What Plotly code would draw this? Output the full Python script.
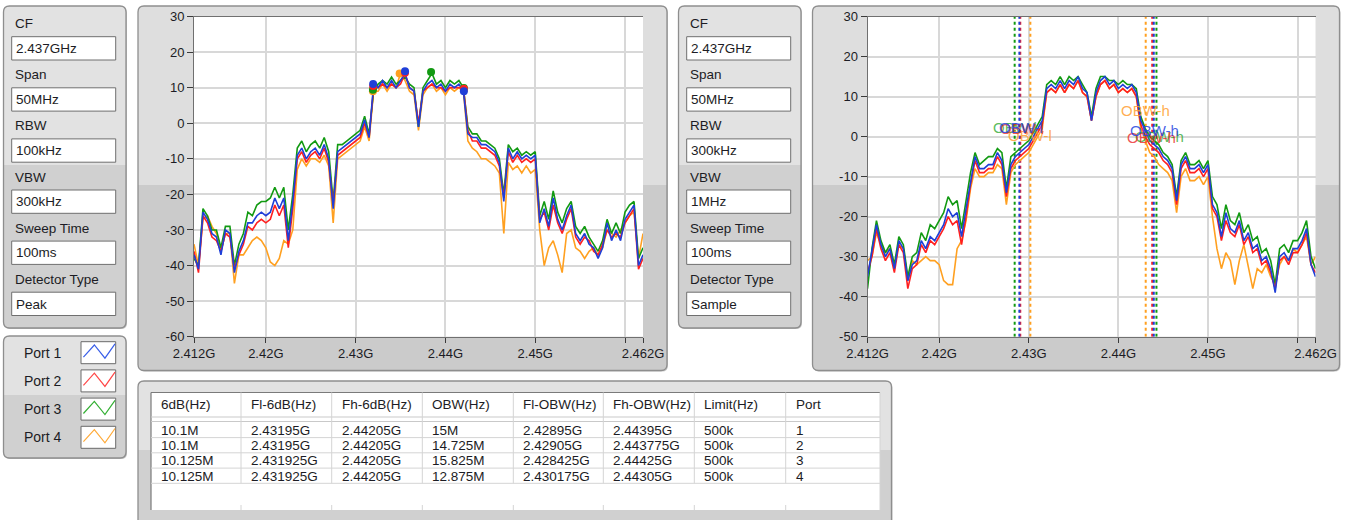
import plotly.graph_objects as go

W, H = 1346, 520
FONT = "Liberation Sans, Arial, sans-serif"
TXT = "#1c1c24"

# ---------------- data ----------------
F_START_GHZ = 2.412
F_STEP_GHZ = 0.0005
N_POINTS = 101
freqs = [round(F_START_GHZ + i * F_STEP_GHZ, 4) for i in range(N_POINTS)]

PORTS = ["Port 1", "Port 2", "Port 3", "Port 4"]
PORT_COLORS = ["#1f3fd8", "#ff2020", "#129a12", "#ffa020"]
SWATCH_COLORS = ["#3a5fe8", "#ff4848", "#34b034", "#ffaa38"]

# Left chart (RBW 100 kHz, Peak detector), dBm
LEFT_P1 = [-37, -41, -25, -27, -31, -32, -37, -30, -31, -42,
           -36, -33, -28, -28, -26, -25, -26, -25, -21, -24,
           -21, -33, -22, -9, -7, -10, -8, -7, -9, -6,
           -10, -24, -8, -7, -6, -5, -4, -3, 1, -4,
           11, 10, 12, 10, 12, 10, 12, 14, 10, 9,
           -1, 9, 11, 12, 10, 11, 9, 11, 10, 11,
           9, -3, -4, -4, -6, -6, -7, -8, -11, -22,
           -7, -10, -8, -10, -9, -10, -9, -28, -24, -29,
           -21, -27, -30, -26, -23, -31, -33, -31, -34, -35,
           -38, -35, -28, -33, -30, -33, -27, -25, -23, -40,
           -37]
LEFT_P2 = [-36, -42, -26, -28, -32, -33, -36, -31, -32, -41,
           -37, -34, -29, -30, -28, -27, -28, -27, -23, -26,
           -23, -35, -24, -10, -8, -11, -9, -8, -10, -7,
           -11, -23, -9, -8, -7, -6, -5, -4, 0, -4,
           10, 10, 11, 10, 11, 10, 11, 14, 10, 9,
           0, 9, 10, 11, 10, 10, 9, 10, 10, 10,
           10, -2, -5, -5, -7, -7, -8, -9, -12, -21,
           -8, -11, -9, -11, -10, -11, -10, -27, -25, -30,
           -23, -28, -31, -27, -24, -32, -34, -32, -33, -36,
           -37, -34, -30, -32, -31, -32, -28, -26, -24, -41,
           -38]
LEFT_P3 = [-38, -40, -24, -26, -30, -30, -35, -29, -29, -40,
           -34, -31, -25, -26, -23, -22, -22, -21, -18, -21,
           -18, -30, -20, -7, -5, -8, -6, -5, -7, -4,
           -8, -22, -6, -6, -5, -4, -3, -2, 2, -3,
           9, 11, 12, 11, 13, 11, 12, 13, 11, 10,
           -1, 10, 12, 14, 11, 12, 10, 12, 11, 12,
           10, -1, -3, -3, -5, -5, -6, -7, -10, -20,
           -6, -8, -7, -9, -8, -9, -8, -26, -22, -27,
           -19, -25, -28, -24, -22, -29, -31, -29, -32, -34,
           -36, -33, -27, -31, -28, -31, -25, -23, -22, -38,
           -35]
LEFT_P4 = [-34, -40, -27, -26, -29, -31, -36, -31, -31, -45,
           -37, -37, -35, -33, -32, -33, -35, -39, -40, -38,
           -33, -34, -30, -13, -10, -12, -10, -10, -11, -9,
           -12, -28, -10, -9, -8, -7, -6, -5, -1, -5,
           9, 9, 11, 9, 11, 10, 14, 12, 9, 8,
           -2, 8, 10, 11, 9, 10, 8, 10, 9, 10,
           9, -5, -7, -8, -10, -10, -11, -12, -14, -31,
           -11, -13, -12, -14, -12, -14, -13, -30, -40, -35,
           -33, -37, -42, -31, -30, -35, -36, -38, -36, -35,
           -37, -35, -30, -31, -32, -30, -28, -26, -25, -38,
           -31]

# Right chart (RBW 300 kHz, Sample detector), dBm
RIGHT_P1 = [-35, -29, -22, -27, -30, -28, -33, -26, -28, -36,
            -32, -31, -26, -28, -25, -26, -24, -22, -18, -20,
            -19, -25, -18, -11, -5, -8, -8, -7, -7, -4,
            -6, -14, -7, -5, -4, -3, -2, 0, 2, 4,
            12, 13, 12, 14, 12, 14, 13, 15, 12, 11,
            4, 11, 14, 15, 13, 14, 12, 13, 12, 13,
            11, 4, 1.5, -1, -2, -3, -5, -6, -8, -16,
            -7, -5, -8, -8, -7, -9, -7, -17, -19, -25,
            -19, -23, -24, -21, -26, -24, -28, -27, -31, -30,
            -33, -39, -30, -29, -31, -28, -28, -26, -23, -32,
            -35]
RIGHT_P2 = [-34, -30, -23, -28, -31, -29, -34, -27, -29, -38,
            -33, -32, -27, -29, -26, -27, -25, -23, -20, -22,
            -21, -27, -20, -12, -6, -9, -9, -8, -8, -5,
            -7, -15, -8, -6, -5, -4, -3, -1, 1, 3,
            11, 12, 11, 13, 11, 13, 12, 14, 11, 10,
            4, 10, 13, 14, 12, 13, 11, 12, 11, 12,
            10, 3, 0, -2, -3, -4, -6, -7, -9, -17,
            -8, -6, -9, -9, -8, -10, -8, -18, -20, -26,
            -21, -24, -25, -22, -27, -25, -29, -28, -32, -31,
            -34, -38, -31, -30, -32, -29, -29, -27, -24, -32,
            -34]
RIGHT_P3 = [-38, -28, -21, -26, -29, -27, -32, -25, -27, -35,
            -30, -29, -24, -26, -22, -23, -21, -19, -15, -17,
            -16, -23, -16, -9, -4, -7, -6, -5, -5, -3,
            -4, -13, -5, -4, -3, -2, -1, 1, 3, 5,
            13, 14, 13, 15, 13, 15, 14, 15, 13, 11,
            5, 12, 15, 15, 14, 14, 13, 14, 13, 13,
            12, 5, 2, 0, -1, -2, -4, -5, -7, -15,
            -6, -4, -7, -7, -6, -8, -6, -15, -17, -23,
            -17, -21, -22, -19, -24, -22, -26, -25, -29, -28,
            -31, -37, -28, -27, -29, -26, -26, -24, -21, -30,
            -33]
RIGHT_P4 = [-31, -30, -24, -27, -29, -28, -32, -27, -28, -36,
            -31, -32, -31, -30, -31, -31, -32, -36, -37, -37,
            -28, -26, -21, -13, -8, -10, -10, -9, -9, -7,
            -8, -17, -9, -7, -6, -5, -4, -2, 0, 2,
            11, 12, 11, 13, 11, 13, 12, 14, 11, 10,
            4, 10, 13, 14, 12, 13, 11, 12, 11, 12,
            10, 2, -1, -4, -5, -7, -8, -9, -11, -19,
            -10, -8, -11, -11, -10, -12, -10, -20, -28, -33,
            -29, -31, -37, -31, -27, -33, -38, -33, -34, -32,
            -35, -37, -32, -30, -31, -28, -29, -27, -25, -32,
            -30]

LEFT_SERIES = [LEFT_P1, LEFT_P2, LEFT_P3, LEFT_P4]
RIGHT_SERIES = [RIGHT_P1, RIGHT_P2, RIGHT_P3, RIGHT_P4]

# Table results (per port)
BW6_TXT = ["10.1M", "10.1M", "10.125M", "10.125M"]
FL6_GHZ = [2.43195, 2.43195, 2.431925, 2.431925]
FH6_GHZ = [2.44205, 2.44205, 2.44205, 2.44205]
OBW_TXT = ["15M", "14.725M", "15.825M", "12.875M"]
FL_OBW_GHZ = [2.42895, 2.42905, 2.428425, 2.430175]
FH_OBW_GHZ = [2.44395, 2.443775, 2.44425, 2.44305]
LIMIT_TXT = ["500k", "500k", "500k", "500k"]
PORT_NUM = ["1", "2", "3", "4"]
TABLE_HEADERS = ["6dB(Hz)", "Fl-6dB(Hz)", "Fh-6dB(Hz)", "OBW(Hz)",
                 "Fl-OBW(Hz)", "Fh-OBW(Hz)", "Limit(Hz)", "Port"]

# Left chart markers (6 dB points and peak)
LOW6_DB = [11.0, 10.5, 9.4, 9.0]
PEAK_GHZ = [2.4355, 2.4355, 2.4384, 2.4349]
PEAK_DB = [14.6, 14.2, 14.4, 14.0]
HIGH6_DB = [9.0, 9.7, 9.9, 9.4]

# OBW cursor label positions (right chart)
OBWL_LABEL_GHZ = [2.42646, 2.4266, 2.42574, 2.42749]
OBWL_LABEL_DB = [2.2, 2.0, 2.2, 0.2]
OBWH_LABEL_GHZ = [2.44106, 2.44074, 2.4416, 2.4401]
OBWH_LABEL_DB = [1.5, -0.2, 0.05, 6.6]
LABEL_COLORS = ["rgba(40,70,225,0.85)", "rgba(235,40,40,0.8)",
                "rgba(50,170,50,0.8)", "rgba(255,160,50,0.85)"]

SET_LABELS = ["CF", "Span", "RBW", "VBW", "Sweep Time", "Detector Type"]
SET1_VALUES = ["2.437GHz", "50MHz", "100kHz", "300kHz", "100ms", "Peak"]
SET2_VALUES = ["2.437GHz", "50MHz", "300kHz", "1MHz", "100ms", "Sample"]

X_TICK_VALS = [2.412, 2.42, 2.43, 2.44, 2.45, 2.46, 2.462]
X_TICK_TEXT = ["2.412G", "2.42G", "2.43G", "2.44G", "2.45G", "", "2.462G"]
LEFT_Y_TICKS = [-60, -50, -40, -30, -20, -10, 0, 10, 20, 30]
RIGHT_Y_TICKS = [-50, -40, -30, -20, -10, 0, 10, 20, 30]

# ---------------- helpers ----------------
def PX(x):
    return x / W


def PY(y):
    return 1 - y / H


def P(x, y):
    return f"{x / W:.5f},{1 - y / H:.5f}"


def rounded_path(x0, y0, x1, y1, r, top=True, bottom=True):
    rt = r if top else 0
    rb = r if bottom else 0
    s = f"M{P(x0 + rt, y0)} L{P(x1 - rt, y0)} "
    if rt:
        s += f"Q{P(x1, y0)} {P(x1, y0 + rt)} "
    s += f"L{P(x1, y1 - rb)} "
    if rb:
        s += f"Q{P(x1, y1)} {P(x1 - rb, y1)} "
    s += f"L{P(x0 + rb, y1)} "
    if rb:
        s += f"Q{P(x0, y1)} {P(x0, y1 - rb)} "
    s += f"L{P(x0, y0 + rt)} "
    if rt:
        s += f"Q{P(x0, y0)} {P(x0 + rt, y0)} "
    return s + "Z"


shapes = []
annotations = []


def panel(x0, y0, x1, y1, ymid, light="#e2e2e2", dark="#d0d0d0", r=6):
    shapes.append(dict(type="path", path=rounded_path(x0 + 1, y0 + 1, x1 + 1, y1 + 1, r),
                       xref="paper", yref="paper", fillcolor="#c4c4c4",
                       line=dict(width=0), layer="below"))
    shapes.append(dict(type="path", path=rounded_path(x0, y0, x1, y1, r),
                       xref="paper", yref="paper", fillcolor=dark,
                       line=dict(width=0), layer="below"))
    shapes.append(dict(type="path", path=rounded_path(x0, y0, x1, ymid, r, bottom=False),
                       xref="paper", yref="paper", fillcolor=light,
                       line=dict(width=0), layer="below"))
    shapes.append(dict(type="path", path=rounded_path(x0, y0, x1, y1, r),
                       xref="paper", yref="paper", fillcolor="rgba(0,0,0,0)",
                       line=dict(color="#8e8e8e", width=1.3), layer="below"))


def box(x0, y0, x1, y1, fill="white", line="#6f6f6f", lw=1):
    shapes.append(dict(type="rect", xref="paper", yref="paper",
                       x0=PX(x0), x1=PX(x1), y0=PY(y1), y1=PY(y0),
                       fillcolor=fill, line=dict(color=line, width=lw), layer="below"))


def hline(x0, x1, y, color, lw=1):
    shapes.append(dict(type="line", xref="paper", yref="paper",
                       x0=PX(x0), x1=PX(x1), y0=PY(y), y1=PY(y),
                       line=dict(color=color, width=lw), layer="below"))


def vline(x, y0, y1, color, lw=1):
    shapes.append(dict(type="line", xref="paper", yref="paper",
                       x0=PX(x), x1=PX(x), y0=PY(y0), y1=PY(y1),
                       line=dict(color=color, width=lw), layer="below"))


def text(x, y, s, size=13.5, color=TXT, anchor="left"):
    annotations.append(dict(x=PX(x), y=PY(y), xref="paper", yref="paper", text=s,
                            showarrow=False, xanchor=anchor, yanchor="middle",
                            font=dict(family=FONT, size=size, color=color)))


# ---------------- panels ----------------
def settings_panel(xoff, values):
    panel(xoff + 3.5, 6, xoff + 126, 328, 165)
    for k, (lab, val) in enumerate(zip(SET_LABELS, values)):
        ly = 23.3 + k * 51.3
        by0 = 36.7 + k * 51.1
        text(xoff + 12.5, ly, lab)
        box(xoff + 11.7, by0, xoff + 115.7, by0 + 23.3)
        text(xoff + 14, by0 + 11.8, val)


settings_panel(0, SET1_VALUES)
settings_panel(675, SET2_VALUES)

# legend panel
panel(3.5, 336, 126, 458, 395)
for k, (name, col) in enumerate(zip(PORTS, SWATCH_COLORS)):
    cy = 352.7 + k * 28.2
    text(21.5, cy, name, size=14)
    bx0, by0, bw, bh = 81, cy - 11, 34.7, 22
    box(bx0, by0, bx0 + bw, by0 + bh, line="#6a6a6a")
    rel = [(0.07, 0.70), (0.385, 0.15), (0.69, 0.75), (0.98, 0.10)]
    pts = [P(bx0 + a * bw, by0 + b * bh) for a, b in rel]
    shapes.append(dict(type="path", xref="paper", yref="paper",
                       path="M" + " L".join(pts), line=dict(color=col, width=1.2),
                       fillcolor="rgba(0,0,0,0)", layer="below"))

# chart panels with white plot areas
LEFT_PLOT = (194.0, 16.5, 643.0, 336.7)
RIGHT_PLOT = (867.5, 16.5, 1315.5, 336.7)
panel(138, 6, 667, 370.5, 185, light="#dedede", dark="#cbcbcb")
box(*LEFT_PLOT, fill="white", line="white", lw=0)
panel(812.5, 6, 1339.5, 370.5, 185, light="#dedede", dark="#cbcbcb")
box(*RIGHT_PLOT, fill="white", line="white", lw=0)

# table panel
panel(138, 381, 891.5, 545, 450)
COL_X = [151, 241, 331.7, 422.3, 513.3, 603.3, 694.3, 785.7, 880]
box(151, 392.5, 880, 510, fill="white", line="white", lw=0)
hline(151, 880, 392.5, "#7a7a7a", 1.2)
vline(151, 392.5, 510, "#7a7a7a", 1.2)
hline(151, 880, 417, "#c9c9c9", 1)
hline(151, 880, 421.5, "#c9c9c9", 1)
ROW_Y = [421.5, 437.6, 452.8, 468.1, 483.3]
for y in ROW_Y[1:]:
    hline(151, 880, y, "#d4d4d4", 1)
for x in COL_X[1:-1]:
    vline(x, 392.5, 483.3, "#d4d4d4", 1)
    vline(x, 505, 510, "#d4d4d4", 1)
vline(880, 392.5, 510, "#d4d4d4", 1)

for j, h in enumerate(TABLE_HEADERS):
    text(COL_X[j] + 8, 404.5, h, size=13.5)
table_cols = [BW6_TXT,
              [f"{v}G" for v in FL6_GHZ],
              [f"{v}G" for v in FH6_GHZ],
              OBW_TXT,
              [f"{v}G" for v in FL_OBW_GHZ],
              [f"{v}G" for v in FH_OBW_GHZ],
              LIMIT_TXT,
              PORT_NUM]
for j, col in enumerate(table_cols):
    for r, val in enumerate(col):
        text(COL_X[j] + 8, (ROW_Y[r] + ROW_Y[r + 1]) / 2 + 0.5, val, size=13.5)

# ---------------- traces ----------------
fig = go.Figure()
DRAW_ORDER = [3, 2, 1, 0]

# OBW cursor lines (right chart)
for p in DRAW_ORDER:
    for f in (FL_OBW_GHZ[p], FH_OBW_GHZ[p]):
        fig.add_trace(go.Scatter(x=[f, f], y=[RIGHT_Y_TICKS[0], RIGHT_Y_TICKS[-1]],
                                 xaxis="x2", yaxis="y2", mode="lines",
                                 line=dict(color=PORT_COLORS[p], width=2, dash="dot"),
                                 hoverinfo="skip", showlegend=False))

for p in DRAW_ORDER:
    fig.add_trace(go.Scatter(x=freqs, y=LEFT_SERIES[p], xaxis="x", yaxis="y",
                             mode="lines", name=PORTS[p],
                             line=dict(color=PORT_COLORS[p], width=1.6),
                             showlegend=False))
    fig.add_trace(go.Scatter(x=freqs, y=RIGHT_SERIES[p], xaxis="x2", yaxis="y2",
                             mode="lines", name=PORTS[p],
                             line=dict(color=PORT_COLORS[p], width=1.6),
                             showlegend=False))

for p in DRAW_ORDER:
    fig.add_trace(go.Scatter(x=[FL6_GHZ[p], PEAK_GHZ[p], FH6_GHZ[p]],
                             y=[LOW6_DB[p], PEAK_DB[p], HIGH6_DB[p]],
                             xaxis="x", yaxis="y", mode="markers",
                             marker=dict(color=PORT_COLORS[p], size=8),
                             showlegend=False))

for p in DRAW_ORDER:
    annotations.append(dict(x=OBWL_LABEL_GHZ[p], y=OBWL_LABEL_DB[p], xref="x2", yref="y2",
                            text="OBW-l", showarrow=False, xanchor="left", yanchor="middle",
                            font=dict(family=FONT, size=15, color=LABEL_COLORS[p])))
    annotations.append(dict(x=OBWH_LABEL_GHZ[p], y=OBWH_LABEL_DB[p], xref="x2", yref="y2",
                            text="OBW-h", showarrow=False, xanchor="left", yanchor="middle",
                            font=dict(family=FONT, size=15, color=LABEL_COLORS[p])))

# ---------------- layout ----------------
def axis(**kw):
    base = dict(showgrid=True, gridcolor="#d8d8d8", gridwidth=1.5, zeroline=False,
                showline=True, linecolor="#707070", linewidth=1, ticks="outside",
                tickcolor="#3a3a3a", tickwidth=1, automargin=False,
                tickfont=dict(family=FONT, size=13, color=TXT), fixedrange=True)
    base.update(kw)
    return base


fig.update_layout(
    template="none",
    width=W, height=H, autosize=False,
    margin=dict(l=0, r=0, t=0, b=0, pad=0),
    paper_bgcolor="white", plot_bgcolor="white",
    showlegend=False,
    xaxis=axis(domain=[PX(LEFT_PLOT[0]), PX(LEFT_PLOT[2])], range=[2.412, 2.462],
               tickvals=X_TICK_VALS, ticktext=X_TICK_TEXT, ticklen=5,
               anchor="y", mirror=True),
    yaxis=axis(domain=[PY(LEFT_PLOT[3]), PY(LEFT_PLOT[1])], range=[-60, 30],
               tickvals=LEFT_Y_TICKS, ticktext=[str(v) for v in LEFT_Y_TICKS],
               ticklen=6, anchor="x"),
    xaxis2=axis(domain=[PX(RIGHT_PLOT[0]), PX(RIGHT_PLOT[2])], range=[2.412, 2.462],
                tickvals=X_TICK_VALS, ticktext=X_TICK_TEXT, ticklen=5,
                anchor="y2", mirror=True),
    yaxis2=axis(domain=[PY(RIGHT_PLOT[3]), PY(RIGHT_PLOT[1])], range=[-50, 30],
                tickvals=RIGHT_Y_TICKS, ticktext=[str(v) for v in RIGHT_Y_TICKS],
                ticklen=6, anchor="x2"),
    shapes=shapes,
    annotations=annotations,
)

fig.write_html(
    "out.html",
    config={"displayModeBar": False, "responsive": False},
    post_script="document.body.style.margin='0px';document.body.style.padding='0px';"
                "document.body.style.overflow='hidden';",
)
